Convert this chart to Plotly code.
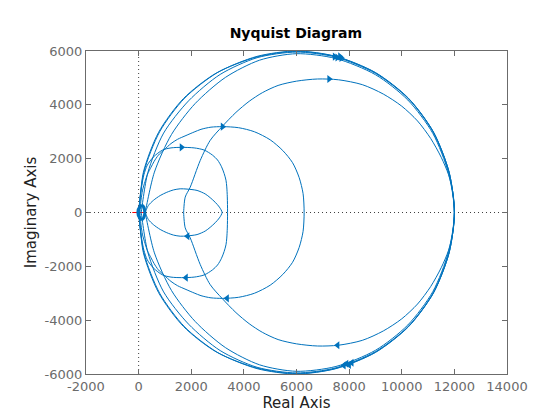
import plotly.graph_objects as go

# Upper halves of the Nyquist curves.
# The lower halves are the mirror images (negative-frequency branch).
outer_x = [12000, 11800, 11200, 10250, 9000, 7500, 6000, 4500, 3000, 1750, 800, 200, 0]
outer_y = [0, 1500, 3000, 4250, 5200, 5800, 6000, 5800, 5200, 4250, 3000, 1500, 0]

outer2_x = [12000, 11800, 11200, 10250, 9000, 7500, 6000, 4500, 2950, 1700, 760, 180, 20]
outer2_y = [0, 1490, 2990, 4240, 5190, 5790, 5985, 5780, 5180, 4230, 2980, 1490, 0]

mid_x = [12000, 11800, 11200, 10250, 9000, 7500, 6000, 4500, 3100, 1900, 950, 350, 100]
mid_y = [0, 1480, 2980, 4230, 5170, 5770, 5960, 5750, 5130, 4150, 2950, 1480, 0]

inner_x = [12000, 11780, 11180, 10230, 9000, 7500, 6000, 4600, 3300, 2150, 1250, 600, 250]
inner_y = [0, 1450, 2940, 4180, 5120, 5720, 5900, 5660, 5020, 4050, 2900, 1500, 0]

bend_x = [12000, 11950, 11780, 11500, 11100, 10600, 10000, 9300, 8500, 7600, 6800,
          6000, 5300, 4700, 4200, 3700, 3180, 2720, 2340, 1960, 1770, 1710]
bend_y = [0, 700, 1400, 2050, 2750, 3400, 3950, 4400, 4750, 4930, 4960,
          4880, 4720, 4450, 4130, 3720, 3200, 2680, 1930, 940, 570, 0]

circ_x = [6290, 6250, 6100, 5850, 5480, 5000, 4400, 3800, 3190, 2750, 2370, 2110, 1800,
          1480, 1230, 970, 750, 590, 470, 340, 240, 150, 90, 50]
circ_y = [0, 700, 1300, 1850, 2300, 2700, 3000, 3150, 3190, 3170, 3090, 2990, 2860,
          2720, 2560, 2330, 2130, 1900, 1680, 1430, 1140, 830, 460, 0]

loop_x = [3380, 3370, 3350, 3320, 3250, 3150, 3000, 2810, 2490, 2110, 1630, 1230,
          910, 560, 330, 200, 120, 60, 30, 20]
loop_y = [0, 580, 950, 1200, 1450, 1700, 1950, 2130, 2320, 2400, 2420, 2400,
          2320, 2060, 1760, 1400, 1000, 600, 300, 0]

drop_x = [3170, 3070, 2910, 2720, 2530, 2220, 1840, 1580, 1330, 1070, 820, 560, 370, 250]
drop_y = [0, 200, 380, 550, 690, 820, 870, 880, 840, 750, 630, 450, 260, 0]

knot_x = [-30, 40, 150, 220, 220, 150, 40, -30]
knot_y = [0, 200, 250, 120, -120, -250, -200, 0]

# direction arrows
arrow_right_x = [7240, 7450, 7550, 7650, 7700, 3190, 1630]
arrow_right_y = [4960, 5790, 5760, 5800, 5740, 3190, 2420]
arrow_left_x = [7560, 7800, 7900, 8000, 8100, 3360, 1800, 1860]
arrow_left_y = [-4930, -5680, -5620, -5660, -5580, -3190, -2420, -880]

x_ticks = [-2000, 0, 2000, 4000, 6000, 8000, 10000, 12000, 14000]
y_ticks = [-6000, -4000, -2000, 0, 2000, 4000, 6000]

BLUE = '#0072BD'


def closed(xs, ys):
    """Join an upper branch with its mirrored lower branch."""
    return xs + xs[::-1], ys + [-v for v in ys[::-1]]


fig = go.Figure()

# critical point
fig.add_trace(go.Scatter(x=[-1], y=[0], mode='markers',
                         marker=dict(symbol='cross-thin', size=9,
                                     line=dict(color='red', width=1.2))))

for xs, ys in [(outer_x, outer_y), (outer2_x, outer2_y), (mid_x, mid_y),
               (inner_x, inner_y), (bend_x, bend_y), (circ_x, circ_y),
               (loop_x, loop_y), (drop_x, drop_y)]:
    cx, cy = closed(xs, ys)
    fig.add_trace(go.Scatter(x=cx, y=cy, mode='lines',
                             line=dict(color=BLUE, width=1, shape='spline', smoothing=0.8)))

fig.add_trace(go.Scatter(x=knot_x, y=knot_y, mode='lines',
                         line=dict(color=BLUE, width=3, shape='spline')))

fig.add_trace(go.Scatter(x=arrow_right_x, y=arrow_right_y, mode='markers',
                         marker=dict(symbol='triangle-right', size=7, color=BLUE)))
fig.add_trace(go.Scatter(x=arrow_left_x, y=arrow_left_y, mode='markers',
                         marker=dict(symbol='triangle-left', size=7, color=BLUE)))

# dotted zero lines
fig.add_shape(type='line', x0=0, x1=0, y0=-6000, y1=6000,
              line=dict(color='#404040', width=1, dash='1px,3px'), layer='below')
fig.add_shape(type='line', x0=-2000, x1=14000, y0=0, y1=0,
              line=dict(color='#404040', width=1, dash='1px,3px'), layer='below')

axis_style = dict(showgrid=False, zeroline=False, showline=True, linecolor='#6b6b6b',
                  linewidth=1, mirror='ticks', ticks='inside', ticklen=5,
                  tickcolor='#6b6b6b', tickfont=dict(size=13, color='#6b6b6b'),
                  automargin=False)

fig.update_xaxes(range=[-2000, 14000], tickvals=x_ticks, ticktext=[str(v) for v in x_ticks],
                 **axis_style,
                 title=dict(text='Real Axis', font=dict(size=15, color='#222222'), standoff=2))
fig.update_yaxes(range=[-6000, 6000], tickvals=y_ticks, ticktext=[str(v) for v in y_ticks],
                 **axis_style,
                 title=dict(text='Imaginary Axis', font=dict(size=15, color='#222222'), standoff=4))

# the page body adds an 8px offset, so the margins are shifted to compensate
fig.update_layout(
    width=560, height=420,
    margin=dict(l=78, r=61, t=43, b=54),
    paper_bgcolor='white', plot_bgcolor='white',
    font=dict(family='DejaVu Sans'),
    showlegend=False,
    title=dict(text='<b>Nyquist Diagram</b>', x=0.514, xanchor='center', y=0.94,
               yanchor='middle', font=dict(size=14, color='black')),
)

fig.write_html("out.html")
